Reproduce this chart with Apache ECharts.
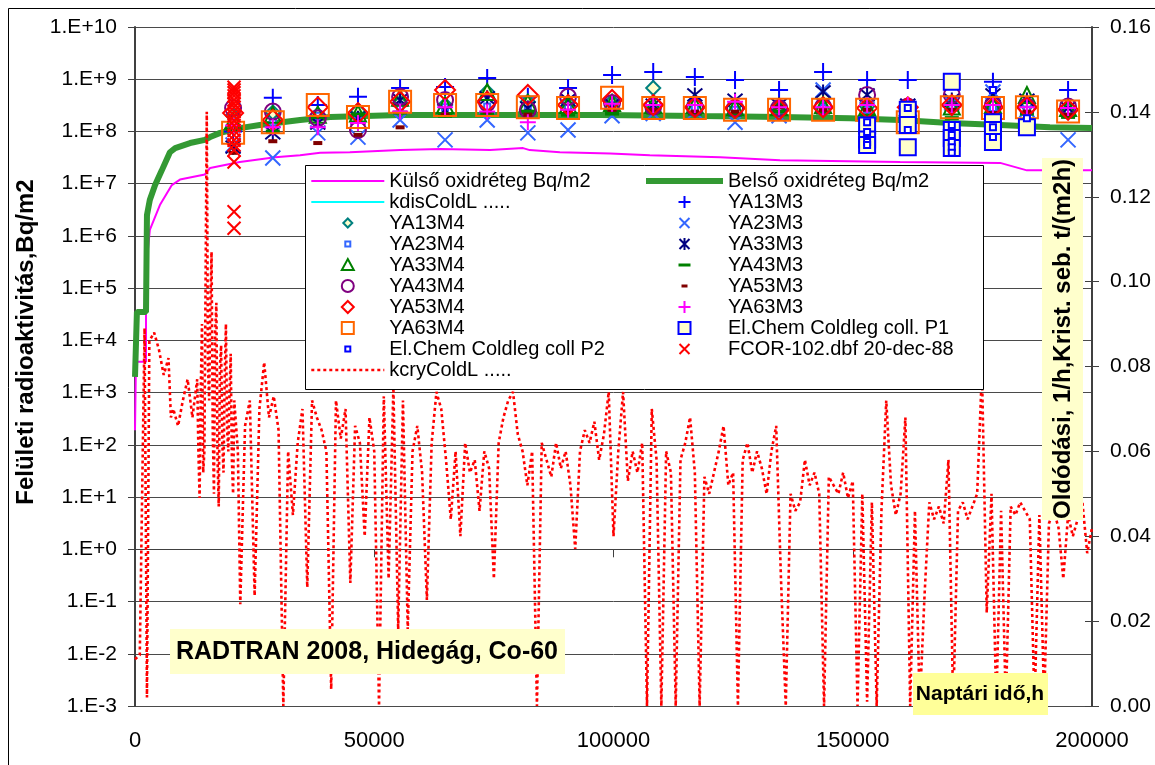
<!DOCTYPE html>
<html><head><meta charset="utf-8">
<script src="https://cdn.jsdelivr.net/npm/echarts@6/dist/echarts.min.js"></script>
<style>html,body{margin:0;padding:0;background:#fff}#c{width:1155px;height:765px}</style>
</head><body><div id="c"></div>
<script>
// ---------- DATA ----------
const xTicks = [0, 50000, 100000, 150000, 200000];
const sampleHours = [20500, 28800, 38200, 46600, 55400, 64800, 73600, 82100, 90500, 99700, 108300, 117000, 125400, 134600, 143800, 153000, 161500, 170700, 179300, 186400, 195000];

const ya13m3 = [1.0e8, 4.4e8, 3.2e8, 4.6e8, 6.8e8, 7.1e8, 1.06e9, 4.6e8, 6.8e8, 1.2e9, 1.37e9, 1.1e9, 9.7e8, 6.2e8, 1.37e9, 9.7e8, 9.7e8, 3.0e8, 8.9e8, 3.0e8, 6.2e8];
const ya23m3 = [5.5e7, 3.1e7, 9.4e7, 7.8e7, 1.66e8, 6.9e7, 1.66e8, 9.4e7, 1.07e8, 2.0e8, 2.2e8, 2.4e8, 1.5e8, 2.0e8, 6.2e8, 2.6e8, 3.0e8, 3.5e8, 5.7e8, 2.6e8, 6.9e7];
const ya33m3 = [5.0e7, 9.4e7, 1.45e8, 1.8e8, 4.0e8, 2.6e8, 4.4e8, 2.8e8, 4.0e8, 3.2e8, 3.2e8, 5.0e8, 4.0e8, 3.2e8, 5.7e8, 5.0e8, 3.2e8, 4.0e8, 5.0e8, 4.0e8, 2.8e8];
const ya43m3 = [1.1e8, 1.0e8, 1.9e8, 2.1e8, 2.3e8, 2.0e8, 2.2e8, 2.4e8, 2.1e8, 2.2e8, 2.3e8, 2.2e8, 2.1e8, 2.4e8, 2.3e8, 2.0e8, 1.9e8, 1.8e8, 2.0e8, 2.2e8, 1.9e8];
const ya53m3 = [3.9e7, 6.5e7, 6.0e7, 8.6e7, 1.2e8, 2.1e8, 2.4e8, 2.1e8, 2.5e8, 2.6e8, 2.6e8, 2.4e8, 2.4e8, 2.9e8, 2.6e8, 2.6e8, 2.4e8, 2.6e8, 2.25e8, 2.4e8, 2.1e8];
const ya63m3 = [1.3e8, 1.2e8, 1.2e8, 1.45e8, 2.4e8, 2.9e8, 2.4e8, 1.5e8, 2.6e8, 3.4e8, 3.2e8, 3.2e8, 3.7e8, 2.9e8, 2.9e8, 3.2e8, 3.2e8, 3.2e8, 3.2e8, 2.9e8, 2.8e8];
const ya13m4 = [2.0e8, 2.3e8, 2.1e8, 2.5e8, 3.5e8, 3.2e8, 5.7e8, 3.7e8, 3.5e8, 3.7e8, 6.8e8, 3.5e8, 3.2e8, 3.0e8, 4.4e8, 3.0e8, 3.0e8, 3.2e8, 3.0e8, 3.2e8, 2.9e8];
const ya23m4 = [1.5e8, 1.5e8, 2.0e8, 2.0e8, 3.0e8, 2.9e8, 3.0e8, 2.6e8, 2.8e8, 3.2e8, 2.9e8, 2.8e8, 2.6e8, 2.6e8, 2.8e8, 2.6e8, 2.8e8, 2.9e8, 2.8e8, 2.6e8, 2.4e8];
const ya33m4 = [1.6e8, 2.1e8, 2.1e8, 2.2e8, 4.4e8, 3.2e8, 5.7e8, 3.5e8, 3.2e8, 3.5e8, 3.2e8, 3.2e8, 2.9e8, 2.9e8, 3.2e8, 2.9e8, 2.9e8, 3.0e8, 3.2e8, 5.0e8, 2.8e8];
const ya43m4 = [2.8e8, 2.4e8, 1.8e8, 1.07e8, 4.6e8, 4.0e8, 3.5e8, 2.6e8, 4.6e8, 3.5e8, 3.0e8, 2.9e8, 2.8e8, 2.8e8, 3.0e8, 5.0e8, 3.0e8, 5.0e8, 3.2e8, 3.0e8, 3.0e8];
const ya53m4 = [2.25e8, 1.66e8, 2.9e8, 2.25e8, 3.7e8, 6.2e8, 3.7e8, 5.0e8, 3.2e8, 4.0e8, 3.2e8, 2.9e8, 2.8e8, 2.6e8, 2.9e8, 2.8e8, 2.9e8, 3.2e8, 2.9e8, 2.9e8, 2.6e8];
const ya63m4 = [9.4e7, 1.5e8, 3.2e8, 1.9e8, 3.7e8, 3.2e8, 3.2e8, 2.9e8, 2.8e8, 4.4e8, 2.8e8, 2.8e8, 2.6e8, 2.6e8, 2.6e8, 2.6e8, 1.5e8, 2.9e8, 2.8e8, 2.9e8, 2.4e8];

const elchemP1 = [[153000,1.3e8],[153000,7.0e7],[153000,5.5e7],[161500,2.6e8],[161500,1.33e8],[161500,5.0e7],[170700,8.9e8],[170700,1.07e8],[170700,7.5e7],[170700,4.8e7],[179300,1.5e8],[179300,1.07e8],[179300,6.3e7],[186400,1.2e8]];
const elchemP2 = [[153000,1.5e8],[153000,9.8e7],[153000,6.3e7],[153000,5.5e7],[161500,2.8e8],[161500,1.07e8],[170700,1.33e8],[170700,8.6e7],[170700,6.3e7],[170700,5.0e7],[170700,3.9e7],[179300,6.2e8],[179300,1.2e8],[179300,7.8e7],[186400,1.8e8]];
const fcor = [[20700,7.0e8],[20700,6.2e8],[20700,5.5e8],[20700,4.8e8],[20700,4.0e8],[20700,3.4e8],[20700,2.9e8],[20700,2.4e8],[20700,2.0e8],[20700,1.6e8],[20700,1.3e8],[20700,1.05e8],[20700,8.5e7],[20700,6.8e7],[20700,5.5e7],[20700,4.4e7],[20700,2.6e7],[20700,2.9e6],[20700,1.4e6]];

const kulsoLine = [[0,190],[200,3900],[2300,3900],[2300,31000],[2700,540000],[3100,1.3e6],[5200,3.9e6],[7700,9.4e6],[9400,1.2e7],[14600,1.5e7],[15700,2.0e7],[21900,2.6e7],[29300,3.2e7],[34500,3.5e7],[38700,3.9e7],[44900,4.0e7],[55400,4.4e7],[63800,4.6e7],[74200,4.4e7],[81100,4.8e7],[82500,4.4e7],[88800,4.0e7],[99300,3.8e7],[107600,3.5e7],[122300,3.2e7],[134800,2.8e7],[159900,2.6e7],[180800,2.5e7],[186400,1.8e7],[200000,1.8e7]];
const belsoLine = [[0,2000],[400,35000],[2300,35000],[2500,2.5e6],[3100,4.9e6],[4200,9.4e6],[5600,1.8e7],[7300,4.0e7],[8400,4.8e7],[11500,6.0e7],[14600,6.9e7],[15700,7.8e7],[17800,9.4e7],[21900,1.16e8],[26100,1.33e8],[34500,1.66e8],[40800,1.9e8],[55400,2.07e8],[97200,2.07e8],[118100,1.97e8],[134800,1.9e8],[149400,1.8e8],[159900,1.66e8],[170300,1.45e8],[180800,1.33e8],[191200,1.2e8],[200000,1.16e8]];
const kdisLine = [];
const kcryLine = [[0,0.011],[1000,0.012],[2000,0.089],[2500,0.002],[3000,0.086],[4000,0.088],[5000,0.084],[6000,0.078],[7000,0.082],[7500,0.068],[8000,0.070],[9000,0.066],[10000,0.072],[11000,0.077],[12000,0.068],[13000,0.077],[13250,0.060],[13500,0.049],[13750,0.075],[14000,0.090],[14250,0.055],[14500,0.060],[14750,0.100],[15000,0.140],[15250,0.080],[15500,0.072],[15750,0.095],[16000,0.107],[16250,0.065],[16500,0.050],[16750,0.088],[17000,0.095],[17250,0.058],[17500,0.047],[17750,0.080],[18000,0.085],[18250,0.062],[18500,0.055],[18750,0.078],[19000,0.090],[19250,0.065],[19500,0.060],[19750,0.074],[20000,0.083],[20250,0.058],[20500,0.050],[20750,0.072],[21000,0.068],[21500,0.060],[22000,0.024],[23000,0.066],[24000,0.072],[25000,0.026],[26000,0.070],[27000,0.081],[28000,0.068],[29000,0.073],[30000,0.065],[31000,0.000],[32000,0.060],[33000,0.045],[34000,0.062],[35000,0.070],[36000,0.028],[37000,0.072],[38000,0.068],[39000,0.065],[40000,0.060],[41000,0.004],[42000,0.072],[43000,0.063],[44000,0.070],[45000,0.029],[46000,0.066],[47000,0.062],[48000,0.040],[49000,0.068],[50000,0.060],[51000,0.000],[52000,0.073],[53000,0.030],[54000,0.075],[55000,0.018],[56000,0.072],[57000,0.018],[58000,0.060],[59000,0.066],[60000,0.055],[61000,0.025],[62000,0.062],[63000,0.074],[64000,0.070],[65000,0.058],[66000,0.044],[67000,0.060],[68000,0.040],[69000,0.062],[70000,0.055],[71000,0.058],[72000,0.046],[73000,0.060],[74000,0.056],[75000,0.030],[76000,0.062],[77000,0.068],[78000,0.072],[79000,0.074],[80000,0.064],[81000,0.060],[82000,0.052],[83000,0.060],[84000,0.000],[85000,0.062],[86000,0.058],[87000,0.054],[88000,0.062],[89000,0.056],[90000,0.060],[91000,0.052],[92000,0.037],[93000,0.060],[94000,0.065],[95000,0.062],[96000,0.067],[97000,0.058],[98000,0.064],[99000,0.074],[100000,0.040],[101000,0.060],[102000,0.074],[103000,0.053],[104000,0.060],[105000,0.055],[106000,0.062],[107000,0.000],[108000,0.070],[109000,0.058],[110000,0.000],[111000,0.060],[112000,0.055],[113000,0.000],[114000,0.058],[115000,0.062],[116000,0.068],[117000,0.055],[118000,0.000],[119000,0.054],[120000,0.050],[121000,0.055],[122000,0.060],[123000,0.066],[124000,0.052],[125000,0.055],[126000,0.000],[127000,0.058],[128000,0.062],[129000,0.055],[130000,0.060],[131000,0.056],[132000,0.050],[133000,0.060],[134000,0.066],[135000,0.030],[136000,0.000],[137000,0.050],[138000,0.046],[139000,0.048],[140000,0.058],[141000,0.052],[142000,0.055],[143000,0.050],[144000,0.000],[145000,0.054],[146000,0.052],[147000,0.050],[148000,0.055],[149000,0.049],[150000,0.053],[151000,0.000],[152000,0.050],[153000,0.001],[154000,0.048],[155000,0.000],[156000,0.046],[157000,0.072],[158000,0.052],[159000,0.045],[160000,0.050],[161000,0.068],[162000,0.000],[163000,0.046],[164000,0.000],[165000,0.026],[166000,0.048],[167000,0.044],[168000,0.047],[169000,0.043],[170000,0.058],[171000,0.000],[172000,0.046],[173000,0.048],[174000,0.044],[175000,0.047],[176000,0.050],[177000,0.079],[178000,0.022],[179000,0.050],[180000,0.000],[181000,0.046],[182000,0.000],[183000,0.047],[184000,0.045],[185000,0.048],[186000,0.046],[187000,0.044],[188000,0.000],[189000,0.045],[190000,0.001],[191000,0.043],[192000,0.046],[193000,0.042],[194000,0.030],[195000,0.045],[196000,0.040],[197000,0.044],[198000,0.048],[199000,0.036],[200000,0.042]];

// ---------- CHART ----------
const FONT = '"Liberation Sans", Arial, sans-serif';
const AX = '#404040';
const PLUS = 'path://M0,-1L0,1M-1,0L1,0';
const CROSS = 'path://M-1,-1L1,1M-1,1L1,-1';
const STAR = 'path://M0,-1L0,1M-0.85,-0.85L0.85,0.85M-0.85,0.85L0.85,-0.85';
const CIRCLE = 'path://M1,0A1,1,0,1,1,-1,0A1,1,0,1,1,1,0Z';
const L = {
  plus: 'path://M-7,-7M7,7M0,-6L0,6M-6,0L6,0',
  cross: 'path://M-7,-7M7,7M-5,-5L5,5M-5,5L5,-5',
  star: 'path://M-7,-7M7,7M0,-6L0,6M-5,-5L5,5M-5,5L5,-5',
  dashL: 'path://M-7,-7M7,7M-6,-1.5L6,-1.5L6,1.5L-6,1.5Z',
  dashS: 'path://M-7,-7M7,7M-3,-1.5L3,-1.5L3,1.5L-3,1.5Z',
  diamondS: 'path://M-7,-7M7,7M0,-4.5L4.5,0L0,4.5L-4.5,0Z',
  sqTiny: 'path://M-7,-7M7,7M-2.5,-2.5L2.5,-2.5L2.5,2.5L-2.5,2.5Z',
  tri: 'path://M-7,-7M7,7M0,-6L6,5L-6,5Z',
  circ: 'path://M-7,-7M7,7M6,0A6,6,0,1,1,-6,0A6,6,0,1,1,6,0Z',
  diamond: 'path://M-7,-7M7,7M0,-6L6,0L0,6L-6,0Z',
  sq: 'path://M-7,-7M7,7M-6,-6L6,-6L6,6L-6,6Z'
};
const pts = vals => sampleHours.map((h, i) => [h, vals[i]]);
const T = 'rgba(0,0,0,0)';
function sc(name, data, symbol, size, stroke, fill, bw, z) {
  return {type: 'scatter', name, data, xAxisIndex: 0, yAxisIndex: 0, symbol, symbolSize: size,
    itemStyle: {color: fill, borderColor: stroke, borderWidth: bw, opacity: 1},
    emphasis: {disabled: true}, silent: true, z: z || 3, animation: false};
}
function ln(name, data, color, width, yAxisIndex, type, z) {
  return {type: 'line', name, data, xAxisIndex: 0, yAxisIndex, symbol: 'none', showSymbol: false,
    lineStyle: {color, width, type: type || 'solid'}, itemStyle: {color},
    emphasis: {disabled: true}, silent: true, z: z || 2, animation: false};
}

const series = [
  ln('Külső oxidréteg Bq/m2', kulsoLine, '#FF00FF', 2, 0),
  ln('Belső oxidréteg Bq/m2', belsoLine, '#339933', 6, 0),
  ln('kdisColdL .....', kdisLine, '#00FFFF', 2, 2),
  sc('YA13M3', pts(ya13m3), PLUS, 18, '#0000FF', T, 2),
  sc('YA13M4', pts(ya13m4), 'diamond', 14, '#008080', '#FFFFCC', 2),
  sc('YA23M3', pts(ya23m3), CROSS, 15, '#3366FF', T, 2),
  sc('YA23M4', pts(ya23m4), 'rect', 6, '#3366FF', '#FFFFFF', 2),
  sc('YA33M3', pts(ya33m3), STAR, 15, '#000080', T, 2),
  sc('YA33M4', pts(ya33m4), 'triangle', 16, '#008000', T, 2),
  sc('YA43M3', pts(ya43m3), 'rect', [14, 4], '#008000', '#008000', 0),
  sc('YA43M4', pts(ya43m4), CIRCLE, 16, '#800080', T, 2),
  sc('YA53M3', pts(ya53m3), 'rect', [9, 4], '#800000', '#800000', 0),
  sc('YA53M4', pts(ya53m4), 'diamond', 20, '#FF0000', T, 2),
  sc('YA63M3', pts(ya63m3), PLUS, 16, '#FF00FF', T, 2),
  sc('YA63M4', pts(ya63m4), 'rect', 22, '#FF6600', T, 2),
  sc('El.Chem Coldleg coll. P1', elchemP1, 'rect', 16, '#0000FF', '#FFFFCC', 2, 4),
  sc('El.Chem Coldleg coll P2', elchemP2, 'rect', 6, '#0000FF', '#FFFFFF', 2, 4),
  sc('FCOR-102.dbf 20-dec-88', fcor, CROSS, 13, '#FF0000', T, 2),
  ln('kcryColdL .....', kcryLine, '#FF0000', 2.6, 2, [3, 3], 2)
];

const hideSym = {opacity: 0};
const legendCommon = {
  orient: 'vertical', selectedMode: false, itemHeight: 14, itemGap: 1, padding: 0, z: 20,
  textStyle: {fontSize: 20, color: '#000', fontFamily: FONT}
};
const option = {
  animation: false,
  backgroundColor: '#fff',
  grid: {left: 135, right: 63, top: 27, bottom: 59, containLabel: false, outerBoundsMode: 'none'},
  xAxis: {type: 'value', min: xTicks[0], max: xTicks[xTicks.length - 1], interval: 50000,
    axisLine: {lineStyle: {color: AX, width: 1}}, axisTick: {length: 8, lineStyle: {color: AX}},
    axisLabel: {formatter: v => String(v), fontSize: 22, color: '#000', margin: 24, fontFamily: FONT},
    splitLine: {show: false}},
  yAxis: [
    {type: 'log', logBase: 10, min: 1e-3, max: 1e10, show: false, position: 'left'},
    {type: 'value', min: -3, max: 10, interval: 1, position: 'left',
      axisLine: {show: true, lineStyle: {color: AX, width: 2}},
      axisTick: {show: true, length: 7, lineStyle: {color: AX}},
      axisLabel: {formatter: n => '1.E' + (n < 0 ? '-' : '+') + Math.abs(n), fontSize: 21, color: '#000', margin: 18, fontFamily: FONT},
      splitLine: {show: true, lineStyle: {color: '#4a4a4a', width: 1}}},
    {type: 'value', min: 0, max: 0.16, interval: 0.02, position: 'right',
      axisLine: {show: true, lineStyle: {color: AX, width: 2}},
      axisTick: {show: true, length: 7, lineStyle: {color: AX}},
      axisLabel: {formatter: v => v.toFixed(2), fontSize: 21, color: '#000', margin: 18, fontFamily: FONT},
      splitLine: {show: false}},
    {type: 'value', min: 0, max: 0.16, interval: 0.02, position: 'right',
      axisLine: {show: false}, axisTick: {show: true, inside: true, length: 7, lineStyle: {color: AX}},
      axisLabel: {show: false}, splitLine: {show: false}}
  ],
  legend: [
    Object.assign({}, legendCommon, {left: 310, top: 171, itemWidth: 73, data: [
      {name: 'Külső oxidréteg Bq/m2', itemStyle: hideSym},
      {name: 'kdisColdL .....', itemStyle: hideSym},
      {name: 'YA13M4', icon: L.diamondS},
      {name: 'YA23M4', icon: L.sqTiny},
      {name: 'YA33M4', icon: L.tri},
      {name: 'YA43M4', icon: L.circ},
      {name: 'YA53M4', icon: L.diamond},
      {name: 'YA63M4', icon: L.sq},
      {name: 'El.Chem Coldleg coll P2', icon: L.sqTiny},
      {name: 'kcryColdL .....', itemStyle: hideSym, lineStyle: {width: 2.6}}
    ]}),
    Object.assign({}, legendCommon, {left: 643, top: 171, itemWidth: 77, data: [
      {name: 'Belső oxidréteg Bq/m2', itemStyle: hideSym, lineStyle: {width: 6}},
      {name: 'YA13M3', icon: L.plus},
      {name: 'YA23M3', icon: L.cross},
      {name: 'YA33M3', icon: L.star},
      {name: 'YA43M3', icon: L.dashL},
      {name: 'YA53M3', icon: L.dashS},
      {name: 'YA63M3', icon: L.plus},
      {name: 'El.Chem Coldleg coll. P1', icon: L.sq},
      {name: 'FCOR-102.dbf 20-dec-88', icon: L.cross}
    ]})
  ],
  graphic: [
    {type: 'rect', silent: true, z: 1, shape: {x: 8.5, y: 8.5, width: 1200, height: 800}, style: {fill: 'none', stroke: '#000', lineWidth: 1}},
    {type: 'rect', silent: true, z: 15, shape: {x: 305.5, y: 165.5, width: 678, height: 224}, style: {fill: '#fff', stroke: '#000', lineWidth: 1}},
    {type: 'rect', silent: true, z: 15, shape: {x: 1042, y: 158, width: 41, height: 362}, style: {fill: '#FFFFCC'}},
    {type: 'rect', silent: true, z: 15, shape: {x: 170, y: 629, width: 395, height: 45}, style: {fill: '#FFFFCC'}},
    {type: 'rect', silent: true, z: 15, shape: {x: 913, y: 673, width: 135, height: 42}, style: {fill: '#FFFF99'}},
    {type: 'text', silent: true, z: 16, x: 26, y: 342, rotation: Math.PI / 2,
      style: {text: 'Felületi radioaktivitás,Bq/m2', fontSize: 24, fontWeight: 'bold', fontFamily: FONT, fill: '#000', align: 'center', verticalAlign: 'middle', textAlign: 'center', textVerticalAlign: 'middle'}},
    {type: 'text', silent: true, z: 16, x: 1063, y: 339, rotation: Math.PI / 2,
      style: {text: 'Oldódási, 1/h,Krist. seb. t/(m2h)', fontSize: 24, fontWeight: 'bold', fontFamily: FONT, fill: '#000', align: 'center', verticalAlign: 'middle', textAlign: 'center', textVerticalAlign: 'middle'}},
    {type: 'text', silent: true, z: 16, x: 367, y: 652,
      style: {text: 'RADTRAN 2008, Hidegág, Co-60', fontSize: 25, fontWeight: 'bold', fontFamily: FONT, fill: '#000', align: 'center', verticalAlign: 'middle', textAlign: 'center', textVerticalAlign: 'middle'}},
    {type: 'text', silent: true, z: 16, x: 980, y: 694,
      style: {text: 'Naptári idő,h', fontSize: 21, fontWeight: 'bold', fontFamily: FONT, fill: '#000', align: 'center', verticalAlign: 'middle', textAlign: 'center', textVerticalAlign: 'middle'}}
  ],
  series
};
const chart = echarts.init(document.getElementById('c'), null, {renderer: 'canvas'});
chart.setOption(option);
</script></body></html>
